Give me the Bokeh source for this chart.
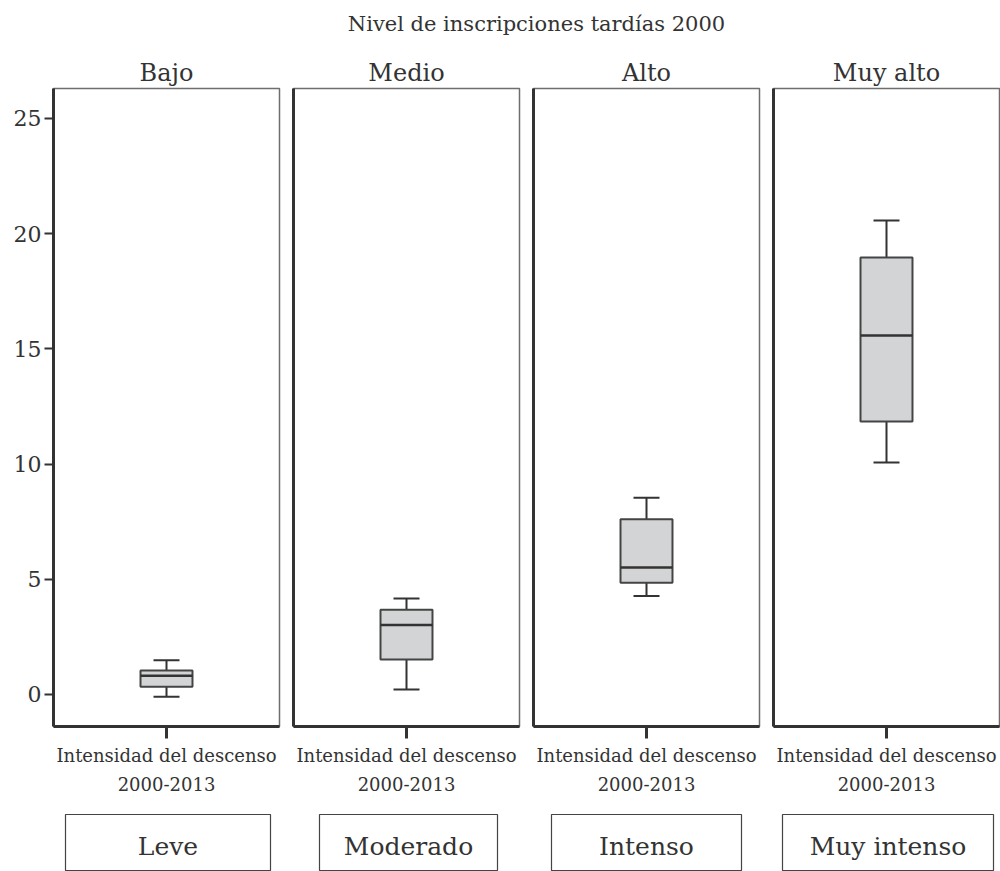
from bokeh.plotting import figure
from bokeh.layouts import column, row
from bokeh.models import Range1d, FixedTicker, ColumnDataSource
from bokeh.embed import file_html
from bokeh.resources import INLINE
from bokeh.core.properties import value

# ---- data ----
title_text = "Nivel de inscripciones tardías 2000"
groups = ["Bajo", "Medio", "Alto", "Muy alto"]
descenso = ["Leve", "Moderado", "Intenso", "Muy intenso"]
x_label = "Intensidad del descenso\n2000-2013"
lower = [-0.10, 0.22, 4.27, 10.07]
q1 = [0.33, 1.52, 4.85, 11.85]
median = [0.81, 3.01, 5.51, 15.58]
q3 = [1.04, 3.68, 7.60, 18.97]
upper = [1.48, 4.17, 8.54, 20.57]
y_ticks = [0, 5, 10, 15, 20, 25]

FONT = "DejaVu Serif"
DARK = "#333333"
GRAY = "#6e6e6e"
BOXFILL = "#d3d4d6"

FRAME_W = 226
LEFT0 = 53
BL, BR = 7, 7
TOP_B, FRAME_H, BOT_B = 38, 638, 74
# strip box insets relative to each panel frame
strip_in_left = [12, 26, 18, 9]
strip_in_right = [9, 22, 18, 6]

y_range = Range1d(-1.39, 26.30)

# title figure
tf = figure(width=1000, height=50, toolbar_location=None, output_backend="svg",
            x_range=Range1d(0, 1), y_range=Range1d(0, 1),
            min_border_left=72, min_border_right=0, min_border_top=35, min_border_bottom=0,
            title=title_text)
tf.axis.visible = False
tf.grid.visible = False
tf.outline_line_color = None
tf.title.align = "center"
tf.title.text_font = FONT
tf.title.text_font_style = "normal"
tf.title.text_font_size = "21px"
tf.title.text_color = DARK
tf.title.standoff = 0
tf.title.offset = 0

panels = []
strips = []
for i, g in enumerate(groups):
    bl = LEFT0 if i == 0 else BL
    br = BR if i < 3 else 1
    p = figure(width=bl + FRAME_W + br, height=TOP_B + FRAME_H + BOT_B,
               toolbar_location=None, output_backend="svg",
               x_range=Range1d(0, 1), y_range=y_range,
               min_border_left=bl, min_border_right=br,
               min_border_top=TOP_B, min_border_bottom=BOT_B, title=g)
    p.title.align = "center"
    p.title.text_font = FONT
    p.title.text_font_style = "normal"
    p.title.text_font_size = "24px"
    p.title.text_color = DARK
    p.title.standoff = 3
    p.grid.visible = False
    p.outline_line_color = GRAY
    p.outline_line_width = 1.5

    # y axis
    ya = p.yaxis[0]
    ya.axis_line_color = DARK
    ya.axis_line_width = 3
    ya.minor_tick_line_color = None
    if i == 0:
        ya.ticker = FixedTicker(ticks=y_ticks)
        ya.major_tick_line_color = DARK
        ya.major_tick_line_width = 2
        ya.major_tick_out = 9
        ya.major_tick_in = 0
        ya.major_label_text_font = FONT
        ya.major_label_text_font_size = "22px"
        ya.major_label_text_color = DARK
        ya.major_label_standoff = 3
    else:
        ya.ticker = FixedTicker(ticks=[])
        ya.major_tick_line_color = None
        ya.major_tick_out = 0
        ya.major_tick_in = 0
        ya.major_label_standoff = 0

    # x axis
    xa = p.xaxis[0]
    xa.ticker = FixedTicker(ticks=[0.5])
    xa.major_label_overrides = {0.5: x_label}
    xa.axis_line_color = DARK
    xa.axis_line_width = 3
    xa.major_tick_line_color = DARK
    xa.major_tick_line_width = 3
    xa.major_tick_out = 12
    xa.major_tick_in = 0
    xa.minor_tick_line_color = None
    xa.major_label_text_font = FONT
    xa.major_label_text_font_size = "18px"
    xa.major_label_text_color = DARK
    xa.major_label_standoff = 6
    xa.major_label_text_line_height = 1.4

    src = ColumnDataSource(dict(x=[0.5], lo=[lower[i]], q1=[q1[i]], med=[median[i]],
                                q3=[q3[i]], hi=[upper[i]]))
    # whiskers
    p.segment(x0="x", y0="lo", x1="x", y1="q1", source=src, line_color=DARK, line_width=2)
    p.segment(x0="x", y0="q3", x1="x", y1="hi", source=src, line_color=DARK, line_width=2)
    p.scatter(x="x", y="lo", marker="dash", size=26, source=src, line_color=DARK, line_width=2)
    p.scatter(x="x", y="hi", marker="dash", size=26, source=src, line_color=DARK, line_width=2)
    # box
    p.vbar(x="x", bottom="q1", top="q3", width=0.23, source=src,
           fill_color=BOXFILL, line_color="#444444", line_width=2)
    p.scatter(x="x", y="med", marker="dash", size=52, source=src, line_color=DARK, line_width=2.5)
    panels.append(p)

    # strip with descenso label
    s = figure(width=bl + FRAME_W + br, height=71, toolbar_location=None, output_backend="svg",
               x_range=Range1d(0, 1), y_range=Range1d(0, 1),
               min_border_left=bl + strip_in_left[i], min_border_right=br + strip_in_right[i],
               min_border_top=14, min_border_bottom=0)
    s.axis.visible = False
    s.grid.visible = False
    s.outline_line_color = "#444444"
    s.outline_line_width = 1.2
    s.text(x=[0.5], y=[0.44], text=[descenso[i]], text_align="center", text_baseline="middle",
           text_font=value(FONT), text_font_size="25px", text_color=DARK)
    strips.append(s)

layout = column(tf, row(*panels), row(*strips), spacing=0)
open("out.html", "w").write(file_html(layout, INLINE))
